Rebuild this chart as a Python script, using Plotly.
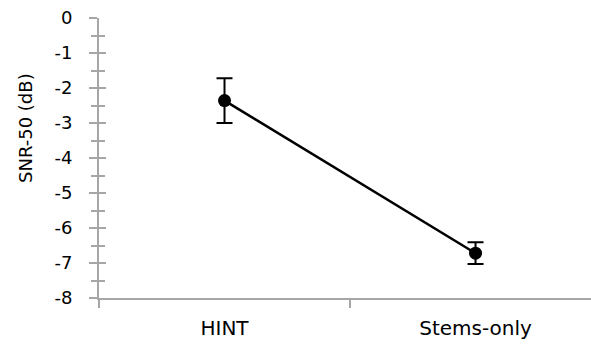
import plotly.graph_objects as go

categories = ["HINT", "Stems-only"]
snr50 = [-2.36, -6.72]
err = [0.64, 0.31]
y_ticks = [0, -1, -2, -3, -4, -5, -6, -7, -8]

axis_grey = "#a6a6a6"
font_family = "DejaVu Sans"

fig = go.Figure()
fig.add_trace(go.Scatter(
    x=categories, y=snr50,
    mode="lines+markers",
    line=dict(color="black", width=2.5),
    marker=dict(color="black", size=13),
    error_y=dict(type="data", array=err, visible=True, color="black", thickness=2, width=8),
    showlegend=False,
))
# invisible trace on second y axis so it renders (inside ticks)
fig.add_trace(go.Scatter(x=categories, y=snr50, yaxis="y2", mode="markers",
                         marker=dict(opacity=0), hoverinfo="skip", showlegend=False))

fig.update_layout(
    width=591, height=350,
    margin=dict(l=99, r=0, t=18, b=52),
    paper_bgcolor="white", plot_bgcolor="white",
    font=dict(family=font_family, color="black"),
    xaxis=dict(
        type="category", range=[-0.5, 1.46],
        tickson="boundaries", ticks="outside", ticklen=8, tickwidth=2, tickcolor=axis_grey,
        showline=True, linecolor=axis_grey, linewidth=2,
        showgrid=False, zeroline=False,
        tickfont=dict(size=20), ticklabelstandoff=11,
    ),
    yaxis=dict(
        range=[-8, 0], tickvals=y_ticks, ticktext=[str(v) for v in y_ticks],
        ticks="outside", ticklen=8, tickwidth=2, tickcolor=axis_grey,
        minor=dict(dtick=0.5, ticks="outside", ticklen=6, tickwidth=2, tickcolor=axis_grey),
        showline=True, linecolor=axis_grey, linewidth=2,
        showgrid=False, zeroline=False,
        tickfont=dict(size=18), ticklabelstandoff=13,
    ),
    yaxis2=dict(
        overlaying="y", side="left", range=[-8, 0], tickvals=y_ticks,
        ticks="inside", ticklen=7, tickwidth=2, tickcolor=axis_grey,
        minor=dict(dtick=0.5, ticks="inside", ticklen=6, tickwidth=2, tickcolor=axis_grey),
        showticklabels=False, showline=False, showgrid=False, zeroline=False,
    ),
    annotations=[dict(
        text="SNR-50 (dB)", textangle=-90, showarrow=False,
        xref="paper", yref="paper", x=-0.148, y=0.608,
        xanchor="center", yanchor="middle",
        font=dict(size=18, family=font_family, color="black"),
    )],
)

fig.write_html("out.html")
